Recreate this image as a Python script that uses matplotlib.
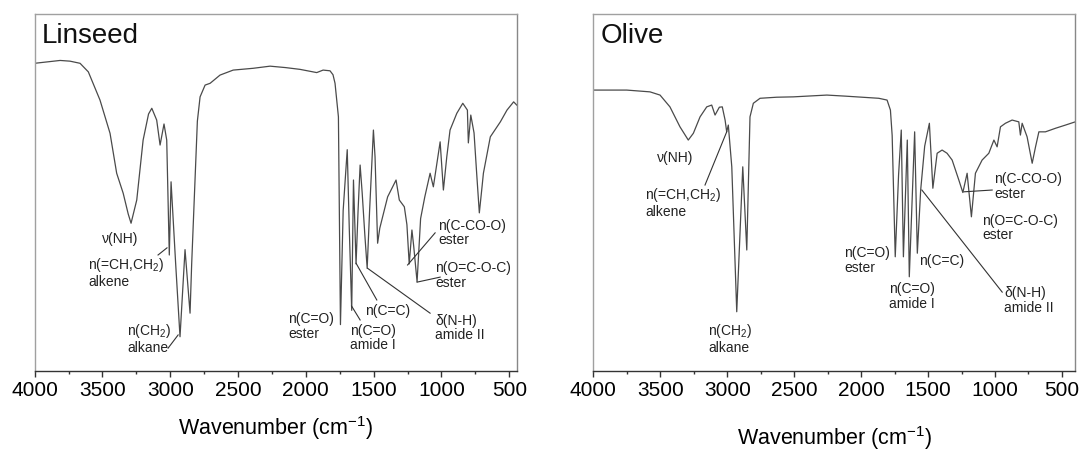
import numpy as np
import matplotlib
matplotlib.use("Agg")
import matplotlib.pyplot as plt
from matplotlib.ticker import MultipleLocator

plt.rcParams['font.family'] = ['Liberation Sans', 'DejaVu Sans']
plt.rcParams['mathtext.fontset'] = 'custom'
plt.rcParams['mathtext.rm'] = 'Liberation Sans'
plt.rcParams['mathtext.it'] = 'Liberation Sans:italic'

# FTIR spectra (wavenumber in cm-1, transmittance in % of panel height)
linseed_wn = [4000, 3812, 3739, 3665, 3604, 3518, 3444, 3395, 3347, 3310,
              3289, 3247, 3200, 3160, 3136, 3100, 3075, 3046, 3026, 3007,
              2994, 2960, 2928, 2891, 2854, 2842, 2800, 2780, 2743, 2706,
              2633, 2536, 2389, 2264, 2150, 2043, 1920, 1873, 1822, 1800,
              1785, 1760, 1745, 1725, 1695, 1680, 1662, 1649, 1630, 1615,
              1600, 1585, 1565, 1548, 1530, 1502, 1490, 1471, 1455, 1434,
              1397, 1360, 1335, 1311, 1274, 1255, 1238, 1218, 1205, 1180,
              1154, 1123, 1084, 1060, 1010, 986, 961, 937, 887, 843,
              809, 802, 784, 760, 740, 721, 700, 691, 640, 566,
              517, 468, 445]
linseed_t = [86.2, 87.0, 86.8, 86.2, 83.8, 75.9, 66.6, 55.4, 49.8, 44.0,
             41.4, 47.9, 64.7, 72.0, 73.6, 70.3, 63.3, 69.2, 64.7, 32.5,
             53.0, 30.0, 9.6, 34.0, 16.2, 30.0, 70.0, 76.8, 80.1, 80.6,
             82.9, 84.3, 84.8, 85.4, 85.0, 84.5, 83.6, 84.3, 84.1, 83.0,
             80.6, 71.2, 13.0, 45.0, 62.0, 40.0, 17.0, 53.5, 30.0, 45.0,
             57.7, 50.0, 38.0, 28.8, 45.0, 67.5, 60.0, 35.8, 40.0, 43.2,
             48.8, 51.6, 53.5, 47.9, 46.0, 41.0, 30.0, 39.5, 35.0, 25.0,
             42.7, 48.8, 55.4, 51.6, 64.2, 50.7, 60.0, 67.5, 72.2, 75.0,
             73.1, 63.9, 71.7, 66.7, 55.0, 44.3, 52.0, 55.4, 65.6, 69.8,
             73.1, 75.4, 74.5]

olive_wn = [4000, 3751, 3577, 3502, 3428, 3353, 3291, 3253, 3203, 3153,
            3116, 3091, 3059, 3037, 3016, 3004, 2992, 2966, 2929, 2884,
            2854, 2830, 2805, 2755, 2630, 2506, 2256, 2117, 1868, 1806,
            1781, 1768, 1745, 1720, 1700, 1684, 1655, 1640, 1600, 1580,
            1555, 1525, 1490, 1464, 1432, 1395, 1358, 1320, 1270, 1240,
            1208, 1176, 1146, 1096, 1046, 1008, 984, 959, 922, 872,
            822, 810, 797, 760, 722, 697, 672, 623, 548, 473,
            400]
olive_t = [78.7, 78.7, 78.2, 77.3, 74.0, 68.4, 64.7, 66.6, 71.2, 74.0,
           74.5, 71.7, 73.9, 74.0, 70.3, 67.0, 68.9, 57.2, 16.6, 57.2,
           33.9, 71.2, 75.0, 76.4, 76.7, 76.8, 77.3, 77.0, 76.4, 75.9,
           73.1, 66.0, 32.0, 55.0, 67.5, 32.0, 64.7, 26.4, 67.0, 33.0,
           50.7, 63.0, 69.4, 51.2, 61.0, 61.9, 61.0, 59.1, 53.5, 50.0,
           55.4, 43.2, 55.4, 59.1, 61.0, 64.7, 62.8, 68.4, 69.4, 70.3,
           69.8, 66.1, 69.4, 65.6, 58.2, 62.8, 67.0, 67.0, 68.0, 68.9,
           69.8]

# band labels: text, (wn, t) of the upper-left corner
linseed_labels = [
    ("ν(NH)", 3503, 38.9),
    ("n(=CH,CH$_2$)\nalkene", 3606, 32.2),
    ("n(CH$_2$)\nalkane", 3318, 13.7),
    ("n(C=O)\nester", 2131, 16.5),
    ("n(C=O)\namide I", 1675, 13.2),
    ("n(C=C)", 1564, 18.8),
    ("δ(N-H)\namide II", 1047, 16.0),
    ("n(C-CO-O)\nester", 1025, 42.6),
    ("n(O=C-O-C)\nester", 1047, 30.8),
]
linseed_pointers = [
    ((3090, 32.5), (3024, 34.5)),
    ((3016, 6.4), (2942, 10.1)),
    ((1600, 14.3), (1663, 18.2)),
    ((1477, 19.9), (1630, 30.2)),
    ((1084, 16.2), (1546, 28.8)),
    ((1047, 38.7), (1250, 29.7)),
    ((1010, 26.3), (1180, 24.9)),
]

olive_labels = [
    ("ν(NH)", 3525, 61.6),
    ("n(=CH,CH$_2$)\nalkene", 3614, 51.8),
    ("n(CH$_2$)\nalkane", 3144, 13.7),
    ("n(C=O)\nester", 2127, 35.0),
    ("n(C=O)\namide I", 1792, 24.9),
    ("n(C=C)", 1567, 32.8),
    ("δ(N-H)\namide II", 931, 23.8),
    ("n(C-CO-O)\nester", 1006, 55.7),
    ("n(O=C-O-C)\nester", 1096, 44.0),
]
olive_pointers = [
    ((3166, 52.1), (3004, 67.0)),
    ((946, 22.1), (1546, 50.7)),
    ((1021, 50.7), (1232, 50.2)),
]

fig = plt.figure(figsize=(10.82, 4.53), dpi=100)
ax1 = fig.add_axes([0.032, 0.181, 0.4456, 0.788])
ax2 = fig.add_axes([0.5484, 0.181, 0.4454, 0.788])

panels = [
    (ax1, "Linseed", linseed_wn, linseed_t, linseed_labels, linseed_pointers, 445, 10),
    (ax2, "Olive", olive_wn, olive_t, olive_labels, olive_pointers, 400, 17),
]

for ax, name, wn, t, labels, pointers, xmin, pad in panels:
    ax.plot(wn, t, color='#4a4a4a', lw=0.9)
    for txt, x, y in labels:
        ax.text(x, y, txt, fontsize=10, ha='left', va='top', color='#222222',
                linespacing=1.05)
    for (xa, ya), (xb, yb) in pointers:
        ax.plot([xa, xb], [ya, yb], color='#333333', lw=0.8)

    ax.text(0.015, 0.975, name, transform=ax.transAxes, fontsize=20,
            ha='left', va='top', color='#111111')

    ax.set_xlim(4000, xmin)
    ax.set_ylim(0, 100)
    ax.xaxis.set_major_locator(MultipleLocator(500))
    ax.xaxis.set_minor_locator(MultipleLocator(250))
    ax.tick_params(axis='x', which='major', direction='out', length=4.5,
                   width=1, labelsize=15, pad=3, color='#333333')
    ax.tick_params(axis='x', which='minor', direction='out', length=2.5,
                   width=1, color='#333333')
    ax.set_yticks([])
    ax.set_xlabel("Wavenumber (cm$^{-1}$)", fontsize=15.5, labelpad=pad)

    for side in ['left', 'top']:
        ax.spines[side].set_color('#a0a0a0')
    ax.spines['right'].set_color('#888888')
    ax.spines['bottom'].set_color('#333333')
    for s in ax.spines.values():
        s.set_linewidth(1)

plt.savefig('out.png', dpi=100)
